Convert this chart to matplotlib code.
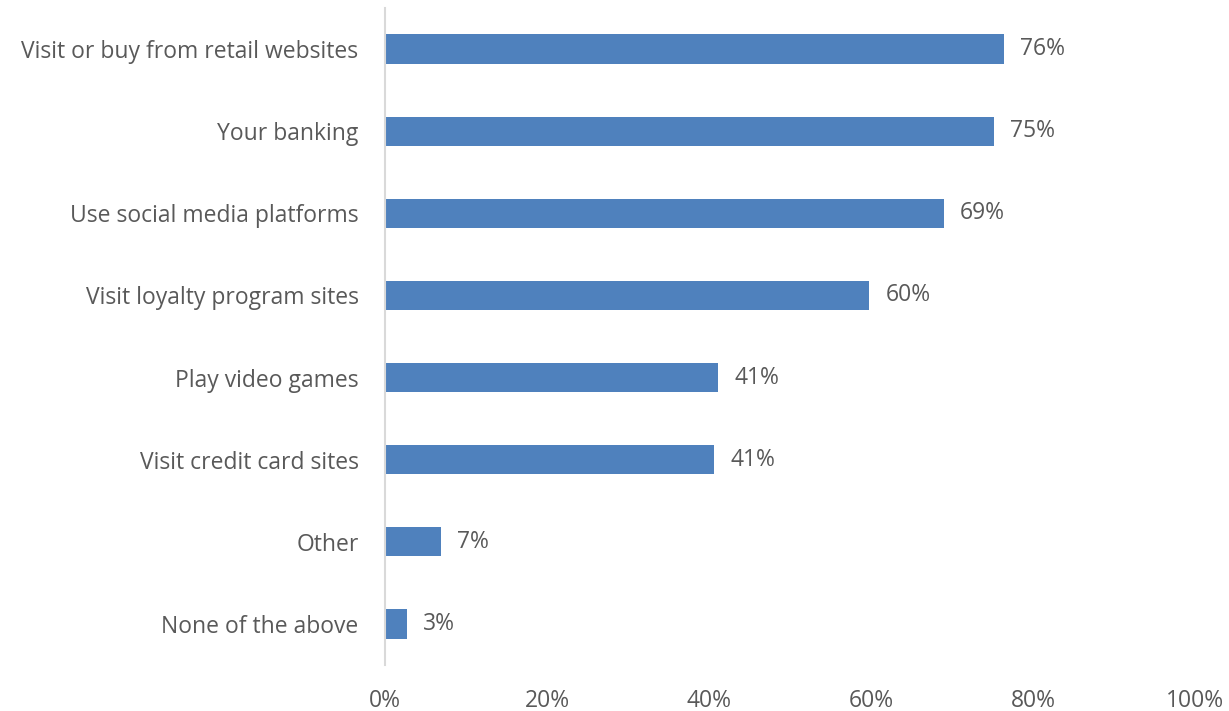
import matplotlib.pyplot as plt

categories = [
    "Visit or buy from retail websites",
    "Your banking",
    "Use social media platforms",
    "Visit loyalty program sites",
    "Play video games",
    "Visit credit card sites",
    "Other",
    "None of the above",
]
shares = [0.764, 0.752, 0.690, 0.598, 0.411, 0.406, 0.069, 0.027]
ticks = [0, 0.2, 0.4, 0.6, 0.8, 1.0]
tick_labels = ["0%", "20%", "40%", "60%", "80%", "100%"]

bar_color = "#4F81BD"
text_color = "#595959"
plt.rcParams["font.family"] = ["Open Sans", "DejaVu Sans"]

fig = plt.figure(figsize=(12.29, 7.11), dpi=100)
ax = fig.add_axes([385 / 1229, 46 / 711, 810 / 1229, 657 / 711])

pos = list(range(len(categories)))
ax.barh(pos, shares, height=0.355, color=bar_color)
ax.set_ylim(len(categories) - 0.5, -0.5)
ax.set_xlim(0, 1)

# value labels to the right of each bar
for y, v in zip(pos, shares):
    ax.text(v + 0.02, y, f"{round(v * 100)}%", va="center", ha="left",
            fontsize=16.5, color=text_color)

ax.set_yticks(pos)
ax.set_yticklabels(categories, fontsize=16.5, color=text_color)
ax.set_xticks(ticks)
ax.set_xticklabels(tick_labels, fontsize=16.5, color=text_color)
ax.tick_params(axis="both", length=0)
ax.tick_params(axis="y", pad=19)
ax.tick_params(axis="x", pad=17)

for side in ["top", "right", "bottom"]:
    ax.spines[side].set_visible(False)
ax.spines["left"].set_color("#D9D9D9")
ax.spines["left"].set_linewidth(1.5)

fig.savefig("out.png", dpi=100)
